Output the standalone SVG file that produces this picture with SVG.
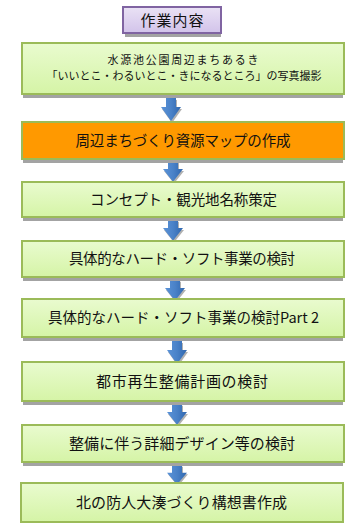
<svg xmlns="http://www.w3.org/2000/svg" width="359" height="523" viewBox="0 0 359 523">
<defs>
<linearGradient id="gGreen" x1="0" y1="0" x2="0" y2="1">
<stop offset="0" stop-color="#E9FBCF"/>
<stop offset="1" stop-color="#D5F4A6"/>
</linearGradient>
<linearGradient id="gPurple" x1="0" y1="0" x2="0" y2="1">
<stop offset="0" stop-color="#EAE2F5"/>
<stop offset="1" stop-color="#D2C3EA"/>
</linearGradient>
<linearGradient id="gBlue" x1="0" y1="0" x2="1" y2="0">
<stop offset="0" stop-color="#5B93D8"/>
<stop offset="0.5" stop-color="#4A82C8"/>
<stop offset="1" stop-color="#2F66AE"/>
</linearGradient>
<path id="arr" d="M-5,0 H5 V9 H10 L0,23 L-10,9 H-5 Z"/>
</defs>
<style>
.sh{fill:#A3A3A3}
.g{fill:url(#gGreen);stroke:#9BBB59;stroke-width:2}
.o{fill:#FF9900;stroke:#9BBB59;stroke-width:2}
.p{fill:url(#gPurple);stroke:#8064A2;stroke-width:2}
.t{font-family:"Noto Sans CJK JP","Noto Sans",sans-serif;fill:#111111;text-anchor:middle}
.as{fill:#9E9E9E;opacity:0.8}
.a{fill:url(#gBlue)}
</style>
<rect width="359" height="523" fill="#FFFFFF"/>
<g id="connectors">
<g transform="translate(171,98)"><use href="#arr" class="as" transform="translate(1,2)"/><use href="#arr" class="a"/></g>
<g transform="translate(173,161) scale(1,0.9)"><use href="#arr" class="as" transform="translate(1,2)"/><use href="#arr" class="a"/></g>
<g transform="translate(173,220) scale(1,0.9)"><use href="#arr" class="as" transform="translate(1,2)"/><use href="#arr" class="a"/></g>
<g transform="translate(175,280) scale(1,0.9)"><use href="#arr" class="as" transform="translate(1,2)"/><use href="#arr" class="a"/></g>
<g transform="translate(177,341)"><use href="#arr" class="as" transform="translate(1,2)"/><use href="#arr" class="a"/></g>
<g transform="translate(177,404) scale(1,0.9)"><use href="#arr" class="as" transform="translate(1,2)"/><use href="#arr" class="a"/></g>
<g transform="translate(177,465) scale(1,0.85)"><use href="#arr" class="as" transform="translate(1,2)"/><use href="#arr" class="a"/></g>
</g>
<g id="title">
<rect class="sh" x="125" y="11" width="96" height="26"/>
<rect class="p" x="123" y="7" width="98" height="26"/>
<text class="t" x="172" y="25.5" font-size="15" textLength="63">作業内容</text>
</g>
<g id="n1">
<rect class="sh" x="23" y="47" width="320" height="51"/>
<rect class="g" x="22" y="43" width="322" height="51"/>
<text class="t" x="183" y="64" font-size="11" textLength="151">水源池公園周辺まちあるき</text>
<text class="t" x="184" y="80" font-size="11" textLength="275">「いいとこ・わるいとこ・きになるところ」の写真撮影</text>
</g>
<g id="n2">
<rect class="sh" x="23" y="126" width="320" height="37"/>
<rect class="o" x="22" y="122" width="322" height="37"/>
<text class="t" x="183" y="145.5" font-size="14.5" textLength="215">周辺まちづくり資源マップの作成</text>
</g>
<g id="n3">
<rect class="sh" x="23" y="186" width="320" height="35"/>
<rect class="g" x="22" y="182" width="322" height="35"/>
<text class="t" x="183.5" y="204.5" font-size="14.5" textLength="187">コンセプト・観光地名称策定</text>
</g>
<g id="n4">
<rect class="sh" x="23" y="245" width="320" height="36"/>
<rect class="g" x="22" y="241" width="322" height="36"/>
<text class="t" x="182" y="264" font-size="14.5" textLength="226">具体的なハード・ソフト事業の検討</text>
</g>
<g id="n5">
<rect class="sh" x="23" y="303" width="320" height="38"/>
<rect class="g" x="22" y="299" width="322" height="38"/>
<text class="t" x="183.5" y="323" font-size="14.5" textLength="271">具体的なハード・ソフト事業の検討Part 2</text>
</g>
<g id="n6">
<rect class="sh" x="23" y="366" width="320" height="39"/>
<rect class="g" x="22" y="362" width="322" height="39"/>
<text class="t" x="182" y="386.5" font-size="15" textLength="172">都市再生整備計画の検討</text>
</g>
<g id="n7">
<rect class="sh" x="23" y="429" width="320" height="37"/>
<rect class="g" x="22" y="425" width="322" height="37"/>
<text class="t" x="182" y="448.5" font-size="15" textLength="226">整備に伴う詳細デザイン等の検討</text>
</g>
<g id="n8">
<rect class="g" x="21" y="483" width="322" height="39"/>
<text class="t" x="181.5" y="507.5" font-size="15" textLength="211">北の防人大湊づくり構想書作成</text>
</g>
</svg>
